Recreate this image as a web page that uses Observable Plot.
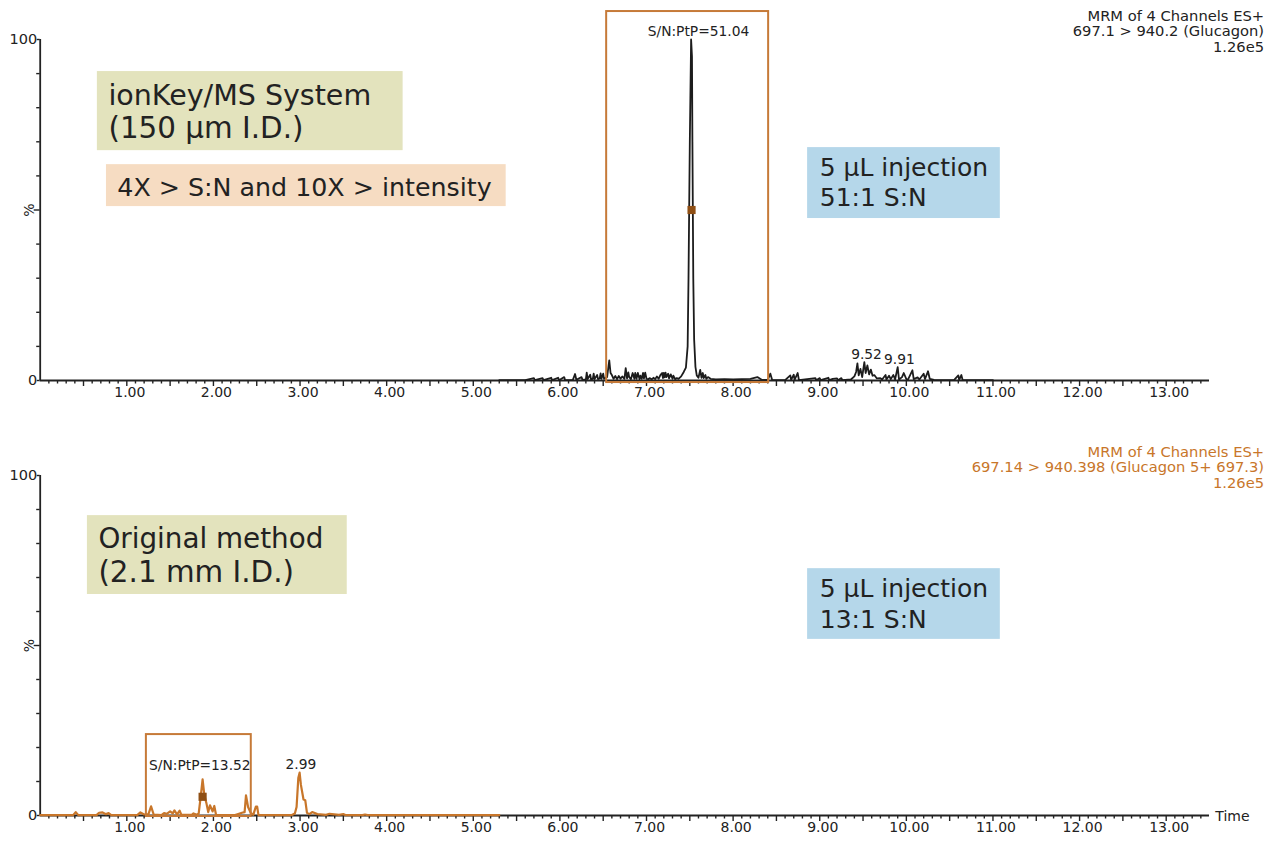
<!DOCTYPE html>
<html><head><meta charset="utf-8">
<style>html,body{margin:0;padding:0;background:#fff}svg{display:block}</style>
<script src="https://cdn.jsdelivr.net/npm/d3@7"></script>
<script src="https://cdn.jsdelivr.net/npm/@observablehq/plot@0.6"></script>
</head><body><div id="chart"></div>
<script>
const topTime = [5.3,5.6,5.7,5.71,5.8,5.81,5.9,5.91,5.98,5.99,6.05,6.06,6.15,6.175,6.19,6.25,6.26,6.3,6.31,6.32,6.35,6.36,6.38,6.39,6.4,6.43,6.44,6.46,6.47,6.48,6.5,6.51,6.545,6.57,6.585,6.6,6.62,6.64,6.66,6.68,6.7,6.72,6.745,6.76,6.775,6.79,6.8,6.82,6.84,6.86,6.87,6.885,6.9,6.92,6.93,6.945,6.96,6.97,6.985,7.0,7.02,7.04,7.06,7.08,7.1,7.12,7.14,7.16,7.18,7.19,7.2,7.21,7.22,7.23,7.25,7.26,7.28,7.3,7.31,7.33,7.35,7.37,7.4,7.43,7.455,7.475,7.485,7.5,7.515,7.525,7.53,7.54,7.55,7.565,7.58,7.6,7.62,7.635,7.65,7.66,7.68,7.69,7.71,7.74,7.8,7.9,8.0,8.1,8.2,8.28,8.33,8.4,8.43,8.45,8.6,8.66,8.67,8.7,8.71,8.745,8.76,8.95,8.96,9.0,9.01,9.1,9.11,9.15,9.2,9.21,9.25,9.26,9.36,9.4,9.42,9.435,9.45,9.47,9.49,9.515,9.53,9.55,9.57,9.59,9.61,9.63,9.66,9.7,9.72,9.76,9.77,9.8,9.82,9.85,9.87,9.9,9.915,9.95,9.97,10.0,10.02,10.07,10.085,10.13,10.15,10.2,10.215,10.25,10.27,10.32,10.55,10.6,10.61,10.635,10.65,11.0];
const topSignal = [0.1,0.1,0.7,0.1,0.7,0.1,0.8,0.1,0.8,0.1,1.0,0.1,0.2,1.9,0.2,1.0,0.2,0.3,2.3,0.4,1.7,0.3,0.5,2.0,0.4,1.6,0.4,0.6,2.1,0.5,2.0,0.5,1.0,5.9,2.2,1.6,0.5,1.3,0.4,1.3,0.5,1.2,0.5,3.6,0.6,2.4,1.0,0.4,2.2,0.5,2.2,0.5,2.2,0.4,1.4,0.5,2.2,0.6,2.3,0.5,0.4,0.7,0.3,0.8,0.4,1.2,0.5,1.6,2.2,0.7,2.2,0.9,2.3,1.0,2.0,0.6,1.8,0.5,1.4,0.4,0.7,0.5,1.2,2.5,3.8,10,30,70,100,95,70,30,12,4,1.5,0.8,3.1,0.8,2.2,0.7,1.6,0.5,1.0,0.5,0.3,0.4,0.3,0.4,0.5,1.0,0.2,0.2,2.0,0.2,0.1,1.5,0.2,1.7,0.2,2.2,0.1,0.7,0.1,0.7,0.1,0.8,0.1,0.5,0.6,0.1,0.7,0.1,0.3,1.2,2.5,5.0,1.5,3.4,1.0,5.4,2.2,4.4,1.8,3.2,1.4,1.6,0.6,0.7,0.3,1.6,0.3,1.4,0.4,1.6,0.3,3.9,0.3,1.0,2.2,0.4,0.3,3.0,0.4,0.9,0.3,2.0,0.4,2.7,0.5,0.2,0.1,1.5,0.2,1.6,0.1,0.1];
const bottomTime = [0,0.38,0.41,0.44,0.65,0.68,0.72,0.76,0.79,0.82,1.12,1.157,1.2,1.25,1.28,1.31,1.4,1.43,1.46,1.5,1.53,1.55,1.58,1.61,1.63,1.75,1.77,1.81,1.83,1.855,1.875,1.895,1.92,1.94,1.96,1.99,2.01,2.03,2.25,2.33,2.36,2.376,2.4,2.43,2.46,2.49,2.505,2.52,2.9,2.94,2.96,2.98,2.995,3.01,3.04,3.06,3.08,3.11,3.14,3.2,3.3,3.34,3.45,3.5,3.53,3.72,3.75,3.78,4.3,5.3];
const bottomSignal = [0.1,0.1,1.0,0.1,0.1,0.8,0.9,0.4,0.7,0.1,0.1,0.9,0.3,0.4,2.7,0.3,0.1,0.7,0.5,1.2,0.6,1.5,0.3,1.4,0.2,0.2,0.6,0.2,0.6,6,10.6,6,3.5,1.0,3.0,1.2,2.8,0.2,0.1,0.8,1.0,5.9,2.5,0.8,0.2,2.6,2.6,0.1,0.1,0.6,2.5,11,12.6,9,4.7,4.5,0.8,0.4,1.0,0.4,0.2,0.5,0.2,0.4,0.1,0.1,0.3,0.1,0.1,0.1];

const xMajor = d3.range(1, 14);
const xMid = d3.range(0.5, 13.5, 1);
const xMinor = d3.range(0.1, 13.45, 0.1).filter(v => Math.abs(v * 2 - Math.round(v * 2)) > 0.01);
const yEnds = [0, 100];
const yMinor = [10, 20, 30, 40, 60, 70, 80, 90];
const yMid = [50];

const trace = "#1c1c1c", orange = "#c8762a", boxStroke = "#c67a38";
const olive = "#e3e3bd", peach = "#f6dcc2", blue = "#b5d7ea", ink = "#222222";

const topFills = [
  {x1: 0.66, x2: 4.19, y1: 67.4, y2: 90.6, fill: olive},
  {x1: 0.765, x2: 5.38, y1: 51.0, y2: 63.3, fill: peach},
  {x1: 8.86, x2: 11.085, y1: 47.5, y2: 68.3, fill: blue}
];
const topNotes = [
  {x: 0.788, y: 83.6, text: "ionKey/MS System", size: 28.5},
  {x: 0.788, y: 73.9, text: "(150 µm I.D.)", size: 29.4},
  {x: 0.89, y: 56.6, text: "4X > S:N and 10X > intensity", size: 25.3},
  {x: 9.0, y: 62.2, text: "5 µL injection", size: 25},
  {x: 9.0, y: 53.4, text: "51:1 S:N", size: 25}
];
const topPeakLabels = [
  {x: 7.6, y: 102.3, text: "S/N:PtP=51.04"},
  {x: 9.54, y: 7.6, text: "9.52"},
  {x: 9.92, y: 6.2, text: "9.91"}
];
const topHeader = ["MRM of 4 Channels ES+", "697.1 > 940.2 (Glucagon)", "1.26e5"];
const bottomFills = [
  {x1: 0.545, x2: 3.545, y1: 65.0, y2: 88.2, fill: olive},
  {x1: 8.86, x2: 11.085, y1: 51.8, y2: 72.6, fill: blue}
];
const bottomNotes = [
  {x: 0.672, y: 81.2, text: "Original method", size: 27.8},
  {x: 0.672, y: 71.5, text: "(2.1 mm I.D.)", size: 29.4},
  {x: 9.0, y: 66.5, text: "5 µL injection", size: 25},
  {x: 9.0, y: 57.6, text: "13:1 S:N", size: 25}
];
const bottomPeakLabels = [
  {x: 1.843, y: 14.7, text: "S/N:PtP=13.52"},
  {x: 3.01, y: 15, text: "2.99"}
];
const bottomHeader = ["MRM of 4 Channels ES+", "697.14 > 940.398 (Glucagon 5+ 697.3)", "1.26e5"];

function panel(o) {
  const {height, marginTop, marginBottom} = o;
  const tickStyle = {fill: "none", stroke: ink, strokeWidth: 1.4, label: null};
  return Plot.plot({
    width: 1280, height, marginTop, marginBottom, marginLeft: 39.7, marginRight: 71,
    x: {domain: [0, 13.5], axis: null},
    y: {domain: [0, 100], axis: null},
    style: {fontFamily: "'DejaVu Sans', sans-serif", fontSize: "14px", color: ink, background: "#fff"},
    marks: [
      Plot.rect(o.fills, {x1: "x1", x2: "x2", y1: "y1", y2: "y2", fill: "fill"}),
      Plot.axisX(xMinor, {tickSize: 3.5, ...tickStyle}),
      Plot.axisX(xMid, {tickSize: 6, ...tickStyle}),
      Plot.axisX(xMajor, {tickSize: 6, ...tickStyle}),
      Plot.axisX(xMajor, {tickSize: 0, tickPadding: 7, dx: 3, tickFormat: d3.format(".2f"), fontSize: 14, fill: ink, label: null}),
      Plot.axisY(yMinor, {tickSize: 3.5, ...tickStyle}),
      Plot.axisY(yMid, {tickSize: 6, ...tickStyle}),
      Plot.axisY(yEnds, {tickSize: 3, tickPadding: 0, tickFormat: d3.format("d"), fontSize: 14.5, fill: ink, stroke: ink, strokeWidth: 1.4, label: null}),
      Plot.ruleX([0], {y1: 0, y2: 100, stroke: ink, strokeWidth: 1.8}),
      Plot.ruleY([0], {x1: 0, x2: 13.5, stroke: ink, strokeWidth: 1.8}),
      Plot.text(["%"], {x: -0.125, y: 50, rotate: -90, fontSize: 14, fill: ink}),
      Plot.line(o.times, {x: d => d, y: (d, i) => o.signal[i], stroke: o.color, strokeWidth: o.lineWidth, curve: "linear"}),
      Plot.dot(o.marker, {x: "x", y: "y", symbol: "square", r: 4.6, fill: "#8f4f14"}),
      Plot.rect(o.box, {x1: "x1", x2: "x2", y1: "y1", y2: "y2", fill: "none", stroke: boxStroke, strokeWidth: 2}),
      Plot.text(o.peakLabels, {x: "x", y: "y", text: "text", fontSize: 13.8, fill: ink}),
      Plot.text(o.notes, {x: "x", y: "y", text: "text", fontSize: "size", textAnchor: "start", fill: ink}),
      Plot.text(o.header, {x: 14.13, y: (d, i) => [106.9, 102.3, 97.6][i], text: d => d, textAnchor: "end", fontSize: 14.7, fill: o.headerColor}),
      Plot.text(o.extra, {x: 13.567, y: -0.3, text: d => d, textAnchor: "start", fontSize: 14, fill: ink})
    ]
  });
}

const chart = document.getElementById("chart");
chart.append(panel({
  height: 427, marginTop: 39, marginBottom: 47,
  fills: topFills, notes: topNotes, peakLabels: topPeakLabels, header: topHeader, headerColor: ink,
  times: topTime, signal: topSignal, color: trace, lineWidth: 1.8,
  marker: [{x: 7.52, y: 50}],
  box: [{x1: 6.54, x2: 8.41, y1: -0.6, y2: 108.2}],
  extra: []
}));
chart.append(panel({
  height: 426, marginTop: 48, marginBottom: 38,
  fills: bottomFills, notes: bottomNotes, peakLabels: bottomPeakLabels, header: bottomHeader, headerColor: orange,
  times: bottomTime, signal: bottomSignal, color: orange, lineWidth: 2.2,
  marker: [{x: 1.875, y: 5.5}],
  box: [{x1: 1.226, x2: 2.437, y1: -0.3, y2: 23.8}],
  extra: ["Time"]
}));
</script></body></html>
